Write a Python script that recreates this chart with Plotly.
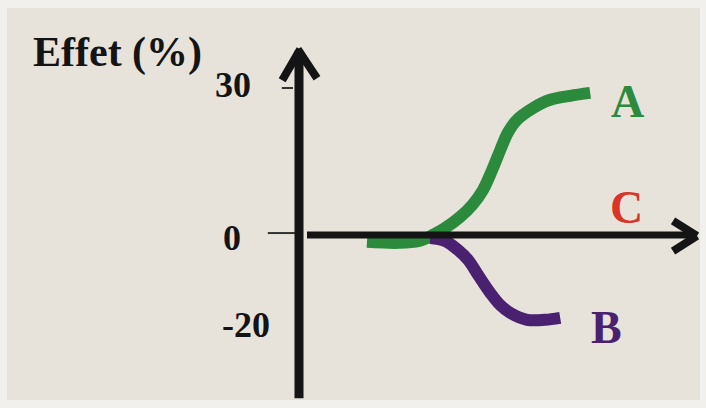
import plotly.graph_objects as go

# ---- data (x is an arbitrary dose scale) ----
a_x = [1.7, 2.5, 3.0, 3.35, 3.65, 4.03, 4.33, 4.6, 4.83, 5.03, 5.23, 5.45, 5.85, 6.28, 6.78, 7.28]
a_y = [-1.4, -1.6, -1.2, 0.0, 1.4, 3.7, 6.1, 9.2, 13.3, 17.3, 21.0, 23.5, 25.9, 27.6, 28.4, 29.0]

b_x = [3.28, 3.65, 3.98, 4.23, 4.48, 4.78, 5.03, 5.28, 5.7, 6.15, 6.53]
b_y = [-0.6, -1.2, -3.1, -5.1, -8.2, -11.8, -14.3, -15.9, -17.3, -17.3, -16.9]

tick_vals = [30, 0, -20]
tick_text = ["30", "0", "-20"]
tick_dy = [3, -3, 8]          # label nudges in px
tick_dx = [-1.15, -1.4, -0.68]

series_names = ["A", "B", "C"]
series_label_x = [8.2, 7.68, 8.18]
series_label_y = [27.3, -18.8, 5.7]
series_colors = ["#2b8a3c", "#4a2170", "#d8342a"]

y_title = "Effet (%)"

# ---- figure ----
X0, X1 = -299 / 40, 407 / 40
Y0, Y1 = -173 / 4.9, 235 / 4.9

fig = go.Figure()
fig.add_trace(go.Scatter(x=a_x, y=a_y, mode="lines",
                         line=dict(color=series_colors[0], width=12, shape="spline", smoothing=1.0),
                         hoverinfo="skip", showlegend=False))
fig.add_trace(go.Scatter(x=b_x, y=b_y, mode="lines",
                         line=dict(color=series_colors[1], width=12, shape="spline", smoothing=1.0),
                         hoverinfo="skip", showlegend=False))

ink = "#141414"
shapes = [
    # photo border / inner background
    dict(type="rect", xref="paper", yref="paper", x0=7 / 706, x1=700 / 706, y0=8 / 408, y1=400 / 408,
         fillcolor="#e7e3da", line=dict(width=0), layer="below"),
    # vertical axis with arrow
    dict(type="line", x0=0, x1=0, y0=-33.3, y1=37.6, line=dict(color=ink, width=9), layer="above"),
    dict(type="line", x0=-0.42, x1=0.03, y0=31.6, y1=37.9, line=dict(color=ink, width=8), layer="above"),
    dict(type="line", x0=0.45, x1=-0.03, y0=32.0, y1=37.9, line=dict(color=ink, width=8), layer="above"),
    # horizontal axis with arrow
    dict(type="line", x0=0.2, x1=9.9, y0=0, y1=0, line=dict(color=ink, width=7), layer="above"),
    dict(type="line", x0=9.35, x1=9.95, y0=2.9, y1=-0.2, line=dict(color=ink, width=8), layer="above"),
    dict(type="line", x0=9.35, x1=9.95, y0=-3.3, y1=-0.2, line=dict(color=ink, width=8), layer="above"),
    # small tick marks
    dict(type="line", x0=-0.43, x1=-0.15, y0=30, y1=30, line=dict(color="#333", width=2), layer="above"),
    dict(type="line", x0=-0.78, x1=-0.1, y0=0.4, y1=0.4, line=dict(color="#333", width=2), layer="above"),
]

ann = []
for v, t, dy, dx in zip(tick_vals, tick_text, tick_dy, tick_dx):
    ann.append(dict(x=dx, y=v, text="<b>" + t + "</b>", showarrow=False, xanchor="right", yanchor="middle",
                    yshift=dy, font=dict(family="Liberation Serif", size=36, color=ink)))
for n, lx, ly, c in zip(series_names, series_label_x, series_label_y, series_colors):
    ann.append(dict(x=lx, y=ly, text="<b>%s</b>" % n, showarrow=False, xanchor="center", yanchor="middle",
                    font=dict(family="Liberation Serif", size=46, color=c)))
ann.append(dict(xref="paper", yref="paper", x=31 / 706, y=1 - 53 / 408, text="<b>" + y_title + "</b>",
                showarrow=False, xanchor="left", yanchor="middle",
                font=dict(family="Liberation Serif", size=42, color=ink)))

fig.update_layout(
    width=706, height=408,
    margin=dict(l=0, r=0, t=0, b=0),
    paper_bgcolor="#f2f0ec", plot_bgcolor="rgba(0,0,0,0)",
    xaxis=dict(range=[X0, X1], visible=False, fixedrange=True),
    yaxis=dict(range=[Y0, Y1], visible=False, fixedrange=True),
    shapes=shapes, annotations=ann,
    showlegend=False,
)
fig.write_html("out.html", config={"displayModeBar": False},
               post_script="document.body.style.margin='0';document.body.style.overflow='hidden';")
